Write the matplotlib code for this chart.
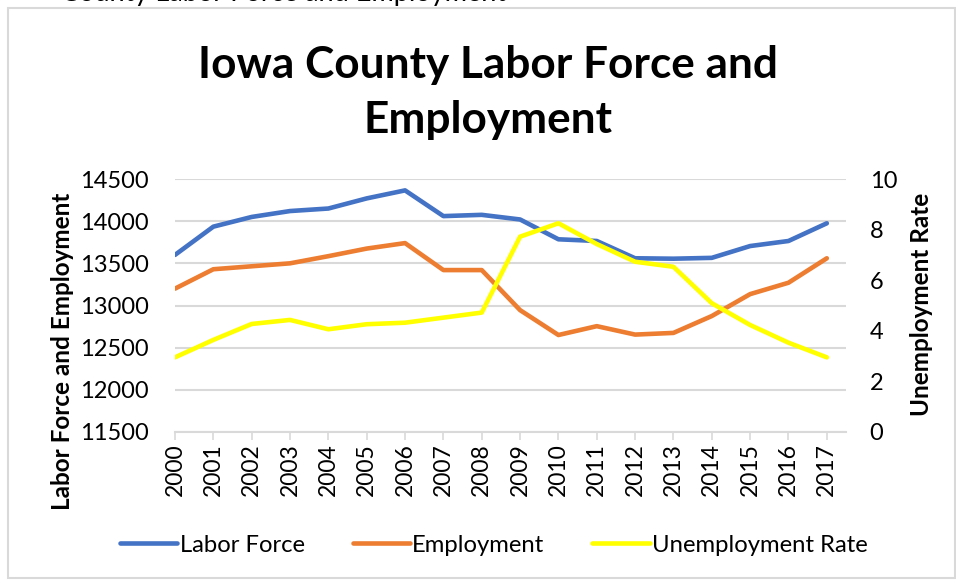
import matplotlib
matplotlib.use("Agg")
import matplotlib.pyplot as plt
from matplotlib.patches import Rectangle

plt.rcParams['font.family'] = ['Lato', 'DejaVu Sans']

years = [str(y) for y in range(2000, 2018)]
labor_force = [13600, 13935, 14050, 14120, 14150, 14270, 14365, 14060,
               14075, 14020, 13785, 13765, 13560, 13555, 13565, 13705,
               13765, 13975]
employment = [13200, 13430, 13465, 13500, 13585, 13675, 13740, 13420,
              13420, 12945, 12650, 12755, 12655, 12675, 12875, 13135,
              13270, 13560]
unemployment_rate = [2.95, 3.64, 4.27, 4.43, 4.06, 4.26, 4.32, 4.52,
                     4.72, 7.72, 8.25, 7.43, 6.73, 6.53, 5.09, 4.23,
                     3.53, 2.95]

left_ticks = [11500, 12000, 12500, 13000, 13500, 14000, 14500]
right_ticks = [0, 2, 4, 6, 8, 10]

BLUE = '#4472C4'
ORANGE = '#ED7D31'
YELLOW = '#FFFF00'
GRID = '#D9D9D9'

W, H = 956, 581
fig = plt.figure(figsize=(W / 100, H / 100), dpi=100)

def fx(px):
    return px / W

def fy(py):
    return 1 - py / H

# chart frame
fig.patches.append(Rectangle((fx(8), fy(578)), fx(955) - fx(8), fy(8) - fy(578),
                             transform=fig.transFigure, fill=False,
                             edgecolor=GRID, linewidth=1.5))

# caption line above the chart, cut off at the top edge
fig.text(fx(61), fy(1), 'County Labor Force and Employment', fontsize=19.5,
         ha='left', va='baseline', color='black')

ax = fig.add_axes([fx(175), fy(432), fx(846) - fx(175), fy(179) - fy(432)])
x = list(range(len(years)))

ax.plot(x, labor_force, color=BLUE, lw=3.3, solid_capstyle='round',
        solid_joinstyle='round', label='Labor Force', zorder=3)
ax.plot(x, employment, color=ORANGE, lw=3.3, solid_capstyle='round',
        solid_joinstyle='round', label='Employment', zorder=3)
ax.set_ylim(11500, 14500)
ax.set_yticks(left_ticks)
ax.set_xlim(0, 17.5)
ax.set_xticks(x)
ax.set_xticklabels(years, rotation=90, fontsize=16.5)
ax.tick_params(axis='y', length=0, pad=19, labelsize=17)
ax.tick_params(axis='x', length=6, width=1.2, color=GRID, pad=2)
ax.grid(axis='y', color=GRID, lw=1.5)
for s in ['top', 'left', 'right']:
    ax.spines[s].set_visible(False)
ax.spines['bottom'].set_color(GRID)
ax.spines['bottom'].set_linewidth(1.5)
ax.set_axisbelow(True)
ax.set_ylabel('Labor Force and Employment', fontsize=17.5, fontweight='bold')
ax.yaxis.set_label_coords((74 - 175) / 671, (432 - 351) / 253)

ax2 = ax.twinx()
ax2.plot(x, unemployment_rate, color=YELLOW, lw=3.3, solid_capstyle='round',
         solid_joinstyle='round', label='Unemployment Rate', zorder=4)
ax2.set_ylim(0, 10)
ax2.set_yticks(right_ticks)
ax2.tick_params(axis='y', length=0, pad=17, labelsize=17)
for s in ax2.spines.values():
    s.set_visible(False)
ax2.set_ylabel('Unemployment Rate', fontsize=17.5, fontweight='bold')
ax2.yaxis.set_label_coords((910 - 175) / 671, (432 - 304) / 253)

# two-line chart title
fig.text(fx(488), fy(78), 'Iowa County Labor Force and', fontsize=31.8,
         fontweight='bold', ha='center', va='baseline')
fig.text(fx(488), fy(133), 'Employment', fontsize=31.8,
         fontweight='bold', ha='center', va='baseline')

handles = ax.get_lines() + ax2.get_lines()
fig.legend(handles, [h.get_label() for h in handles], loc='center',
           bbox_to_anchor=(fx(494), fy(545)), ncol=3, frameon=False,
           fontsize=17.2, handlelength=2.4, handletextpad=0.1,
           columnspacing=2.0)

fig.savefig('out.png', dpi=100)
